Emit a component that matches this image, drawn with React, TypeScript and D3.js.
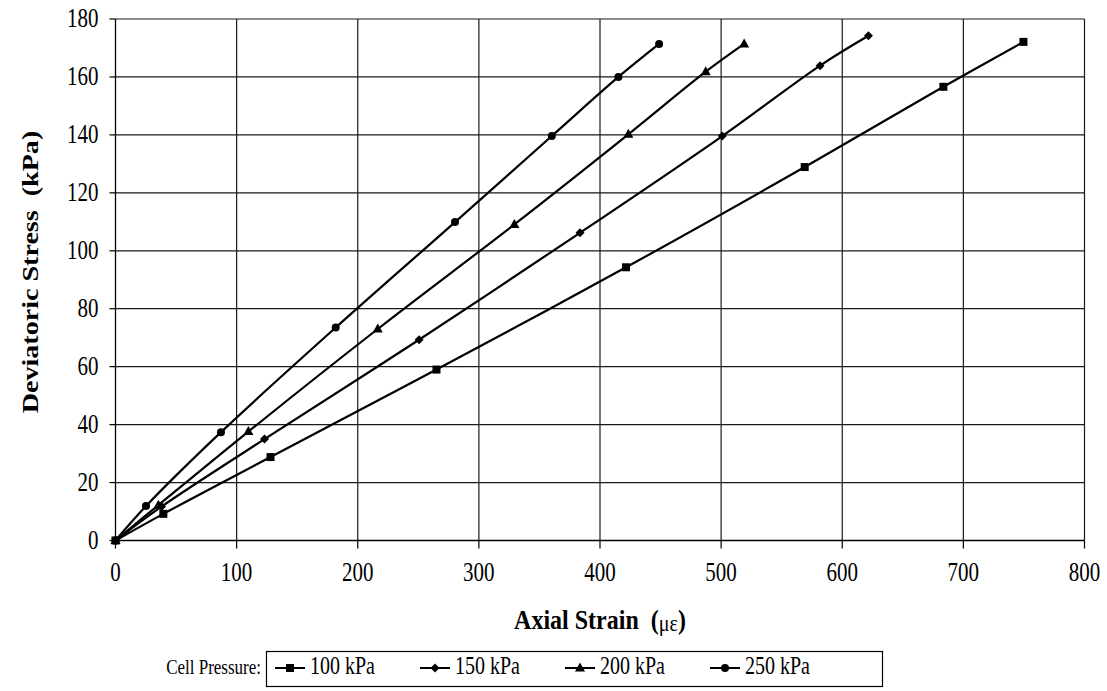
import React from "react";
import * as d3 from "d3";

const strain100 = [0, 39.5, 128, 265, 421.5, 569, 683.5, 749.6];
const stress100 = [0, 9.2, 28.8, 59, 94.3, 128.9, 156.6, 172.1];
const strain150 = [0, 38, 123, 250.6, 383.5, 501, 581.7, 621.6];
const stress150 = [0, 11.7, 35, 69.3, 106.2, 139.6, 163.9, 174.2];
const strain200 = [0, 35.4, 109.7, 216.5, 329.3, 423.4, 487.3, 519];
const stress200 = [0, 12.2, 37.6, 73, 109.1, 140.2, 161.8, 171.4];
const strain250 = [0, 25.2, 87.1, 181.8, 280.3, 360.2, 415.2, 448.8];
const stress250 = [0, 11.9, 37.4, 73.5, 109.9, 139.6, 160, 171.4];

const seriesNames = ["100 kPa", "150 kPa", "200 kPa", "250 kPa"];
const markerTypes = ["square", "diamond", "triangle", "circle"];
const xTicks = [0, 100, 200, 300, 400, 500, 600, 700, 800];
const yTicks = [0, 20, 40, 60, 80, 100, 120, 140, 160, 180];

const W = 1107;
const H = 691;
const FONT = "'Times New Roman', 'Liberation Serif', serif";

function Txt(props: {
  x: number;
  y: number;
  size: number;
  sy?: number;
  anchor?: string;
  bold?: boolean;
  children: React.ReactNode;
}) {
  return (
    <text
      transform={`translate(${props.x},${props.y}) scale(1,${props.sy ?? 1.25})`}
      textAnchor={props.anchor || "start"}
      style={{ fontFamily: FONT, fontSize: props.size, fontWeight: props.bold ? "bold" : "normal" }}
    >
      {props.children}
    </text>
  );
}

function Marker({ type, x, y }: { type: string; x: number; y: number }) {
  if (type === "square") return <rect x={x - 4} y={y - 4} width={8} height={8} fill="#000" />;
  if (type === "diamond")
    return <path d={`M${x},${y - 4.5}L${x + 4.5},${y}L${x},${y + 4.5}L${x - 4.5},${y}Z`} fill="#000" />;
  if (type === "triangle")
    return <path d={`M${x},${y - 5.5}L${x + 5},${y + 3.5}L${x - 5},${y + 3.5}Z`} fill="#000" />;
  return <circle cx={x} cy={y} r={4} fill="#000" />;
}

export default function App() {
  const x = d3.scaleLinear().domain([0, 800]).range([115.5, 1084.5]);
  const y = d3.scaleLinear().domain([0, 180]).range([540.5, 19]);
  const series = [
    { xs: strain100, ys: stress100 },
    { xs: strain150, ys: stress150 },
    { xs: strain200, ys: stress200 },
    { xs: strain250, ys: stress250 },
  ];
  const line = d3
    .line<[number, number]>()
    .x((d) => x(d[0]))
    .y((d) => y(d[1]))
    .curve(d3.curveCatmullRom.alpha(0.5));

  const legendX = [275, 420, 565, 710];

  return (
    <svg width={W} height={H} style={{ position: "absolute", left: 0, top: 0, background: "#fff" }}>
      <rect x={0} y={0} width={W} height={H} fill="#fff" />
      {xTicks.slice(1).map((t) => (
        <line key={"gx" + t} x1={x(t)} x2={x(t)} y1={y(180)} y2={y(0)} stroke="#1a1a1a" strokeWidth={1.2} />
      ))}
      {yTicks.slice(1).map((t) => (
        <line key={"gy" + t} x1={x(0)} x2={x(800)} y1={y(t)} y2={y(t)} stroke="#1a1a1a" strokeWidth={1.2} />
      ))}
      <line x1={x(0)} x2={x(0)} y1={y(180)} y2={y(0)} stroke="#000" strokeWidth={1.3} />
      <line x1={x(0)} x2={x(800)} y1={y(0)} y2={y(0)} stroke="#000" strokeWidth={1.3} />
      {yTicks.map((t) => (
        <g key={"ty" + t}>
          <line x1={x(0) - 6} x2={x(0)} y1={y(t)} y2={y(t)} stroke="#000" strokeWidth={1.2} />
          <Txt x={x(0) - 17} y={y(t) + 8} size={21} anchor="end">
            {t}
          </Txt>
        </g>
      ))}
      {xTicks.map((t) => (
        <g key={"tx" + t}>
          <line x1={x(t)} x2={x(t)} y1={y(0)} y2={y(0) + 8} stroke="#000" strokeWidth={1.2} />
          <Txt x={x(t)} y={y(0) + 40} size={21} anchor="middle">
            {t}
          </Txt>
        </g>
      ))}
      {series.map((s, i) => {
        const pts: [number, number][] = s.xs.map((v, j) => [v, s.ys[j]]);
        return (
          <g key={"s" + i}>
            <path d={line(pts) || ""} fill="none" stroke="#000" strokeWidth={2.2} />
            {pts.map((p, j) => (
              <Marker key={j} type={markerTypes[i]} x={x(p[0])} y={y(p[1])} />
            ))}
          </g>
        );
      })}
      <Txt x={600} y={629} size={24} sy={1.15} anchor="middle" bold>
        Axial Strain{"\u00a0\u00a0"}(<tspan style={{ fontSize: 20, fontWeight: "normal" }} dy={2}>με</tspan>
        <tspan dy={-2}>)</tspan>
      </Txt>
      <text
        transform={`translate(38,272) scale(1,1.17) rotate(-90)`}
        textAnchor="middle"
        style={{ fontFamily: FONT, fontSize: 24, fontWeight: "bold" }}
      >
        Deviatoric Stress{"\u00a0\u00a0"}(kPa)
      </text>
      <Txt x={261} y={674} size={17} anchor="end">
        Cell Pressure:
      </Txt>
      <rect x={266.5} y={651.5} width={616} height={35} fill="none" stroke="#000" strokeWidth={1.2} />
      {seriesNames.map((n, i) => (
        <g key={"l" + i}>
          <line x1={legendX[i]} x2={legendX[i] + 30} y1={668} y2={668} stroke="#000" strokeWidth={2} />
          <Marker type={markerTypes[i]} x={legendX[i] + 15} y={668} />
          <Txt x={legendX[i] + 35} y={674} size={20}>
            {n}
          </Txt>
        </g>
      ))}
    </svg>
  );
}
